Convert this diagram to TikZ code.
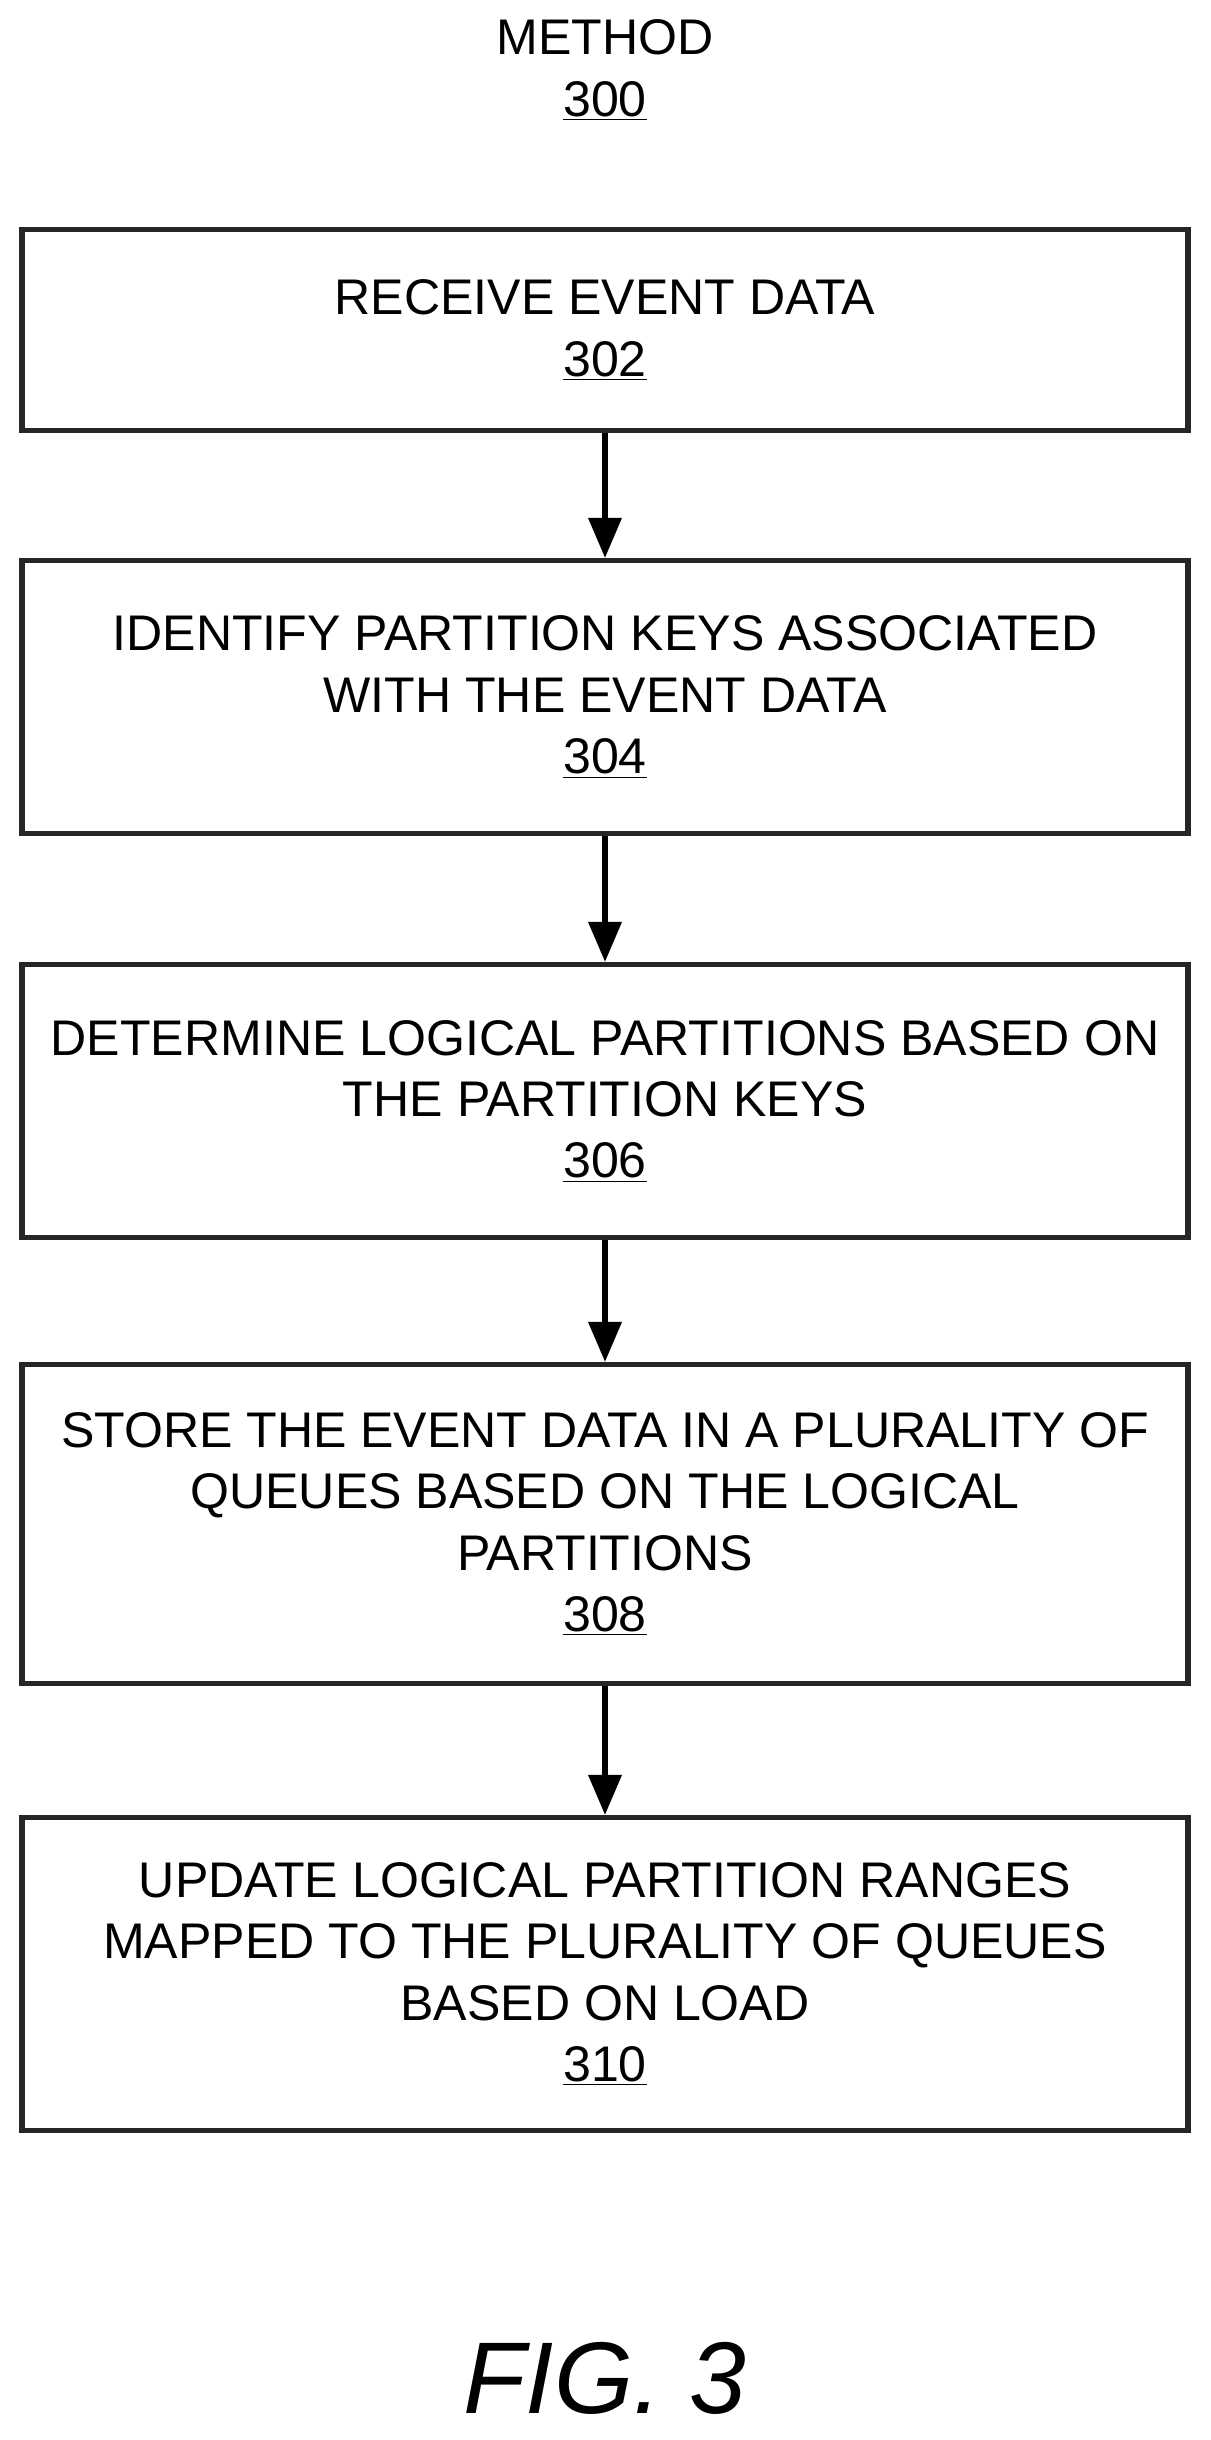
\documentclass[tikz,border=0pt]{standalone}
\usepackage{fontspec}
\setmainfont{Liberation Sans}
\usetikzlibrary{arrows.meta}
\tikzset{
  stepbox/.style={draw=black!85, line width=3pt, minimum width=23.32cm, align=center,
    font=\fontsize{28.5}{35}\selectfont, inner sep=0pt},
  flow/.style={line width=3pt, -{Triangle[length=0.8cm,width=0.65cm]}}
}
\begin{document}
\begin{tikzpicture}[x=0.02cm,y=-0.02cm]
    \useasboundingbox (0,0) rectangle (1210,2440);
    \node[font=\fontsize{28.5}{35}\selectfont, align=center] (title) at (605,70) {METHOD\\\underline{300}};

    \node[stepbox, minimum height=4.02cm] (s302) at (605,330) {RECEIVE EVENT DATA\\\underline{302}};
    \node[stepbox, minimum height=5.46cm] (s304) at (605,697) {IDENTIFY PARTITION KEYS ASSOCIATED\\WITH THE EVENT DATA\\\underline{304}};
    \node[stepbox, minimum height=5.46cm] (s306) at (605,1101) {DETERMINE LOGICAL PARTITIONS BASED ON\\THE PARTITION KEYS\\\underline{306}};
    \node[stepbox, minimum height=6.38cm] (s308) at (605,1524) {STORE THE EVENT DATA IN A PLURALITY OF\\QUEUES BASED ON THE LOGICAL\\PARTITIONS\\\underline{308}};
    \node[stepbox, minimum height=6.26cm] (s310) at (605,1974) {UPDATE LOGICAL PARTITION RANGES\\MAPPED TO THE PLURALITY OF QUEUES\\BASED ON LOAD\\\underline{310}};

    % connectors
    \draw[flow] (s302) -- (s304);
    \draw[flow] (s304) -- (s306);
    \draw[flow] (s306) -- (s308);
    \draw[flow] (s308) -- (s310);

    \node[font=\fontsize{58}{62}\selectfont\itshape] (fig) at (605,2378) {FIG. 3};
\end{tikzpicture}
\end{document}
